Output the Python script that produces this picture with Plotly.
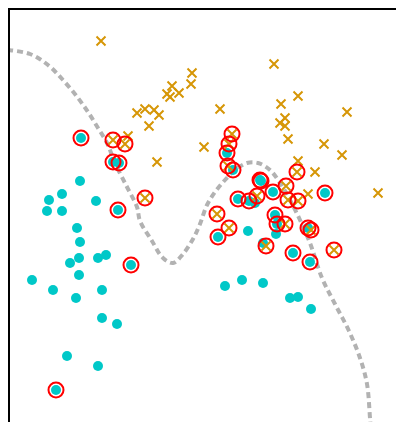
import plotly.graph_objects as go

# class 0 (cyan dots)
c0_x = [81,113,119,49,62,80,96,47,62,118,77,80,79,70,98,106,131,32,79,53,76,102,102,117,67,98,56,
        227,233,260,261,273,325,238,249,255,275,277,218,248,276,308,263,293,310,225,242,263,290,298,311]
c0_y = [138,162,163,200,194,181,201,211,211,210,228,242,258,263,258,255,265,280,275,290,298,290,318,324,356,366,390,
        153,170,180,181,192,193,199,201,203,215,224,237,231,234,228,243,253,262,286,280,283,298,297,309]

# class 1 (orange crosses)
c1_x = [101,274,192,191,172,167,170,179,137,145,154,159,149,128,113,125,157,145,204,220,298,281,347,285,280,285,
        288,324,342,232,229,228,298,297,315,378,286,257,288,298,308,217,285,229,311,266,334]
c1_y = [41,64,73,84,86,94,97,93,113,109,110,115,126,136,140,144,162,198,147,109,96,104,112,118,123,126,
        139,144,155,134,144,166,161,172,172,193,186,196,200,201,194,214,224,228,230,246,250]

# support vectors (red circles)
sv_x = [81,113,119,118,131,56,227,233,260,261,273,325,238,249,275,277,218,308,293,310,
        113,125,145,232,229,228,297,286,257,288,298,217,285,229,311,266,334]
sv_y = [138,162,163,210,265,390,153,170,180,181,192,193,199,201,215,224,237,228,253,262,
        140,144,198,134,144,166,172,186,196,200,201,214,224,228,230,246,250]

# decision boundary
bd_x = [7,30,48,63,78,88,98,107,115,127,137,140,152,163,173,183,193,200,207,215,225,235,247,258,270,280,290,300,
        310,322,335,349,360,367,370,371]
bd_y = [50,54,65,80,98,112,128,143,163,187,207,221,241,258,263,254,239,224,205,192,180,170,163,163,170,183,200,220,
        243,278,304,331,358,384,418,430]

fig = go.Figure()
fig.add_trace(go.Scatter(x=bd_x, y=bd_y, mode="lines", line_shape="spline",
                         line=dict(color="rgb(178,178,178)", width=4, dash="6px,4px"), hoverinfo="skip"))
fig.add_trace(go.Scatter(x=c0_x, y=c0_y, mode="markers",
                         marker=dict(color="rgb(0,200,200)", size=10, line=dict(width=0))))
fig.add_trace(go.Scatter(x=c1_x, y=c1_y, mode="markers",
                         marker=dict(symbol="x-thin", size=9, line=dict(color="rgb(214,150,6)", width=2))))
fig.add_trace(go.Scatter(x=sv_x, y=sv_y, mode="markers",
                         marker=dict(symbol="circle-open", size=15, color="red", line=dict(color="red", width=2))))

fig.update_layout(
    width=404, height=422, showlegend=False,
    margin=dict(l=2, r=9, t=2, b=0),
    plot_bgcolor="white", paper_bgcolor="white",
    xaxis=dict(range=[10, 403], showgrid=False, zeroline=False, showticklabels=False, ticks="",
               showline=True, linecolor="black", linewidth=2, side="top"),
    yaxis=dict(range=[430, 10], showgrid=False, zeroline=False, showticklabels=False, ticks="",
               showline=True, linecolor="black", linewidth=2, mirror=True),
)
fig.write_html("out.html", default_width="404px", default_height="422px")
